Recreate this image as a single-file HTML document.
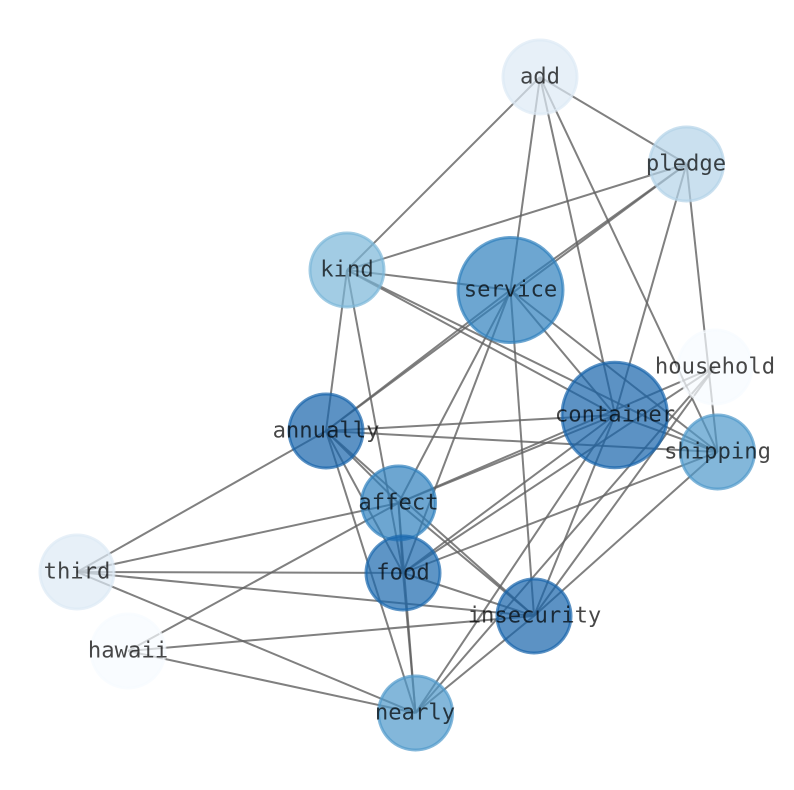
<!DOCTYPE html>
<html><head><meta charset="utf-8"><style>
html,body{margin:0;padding:0;background:#fff}
svg{display:block}
text{font-family:"DejaVu Sans Mono",monospace;font-size:22.2px;text-anchor:middle;fill:#000;fill-opacity:.72}
line{stroke:#606060;stroke-opacity:.8;stroke-width:2}
circle{stroke-width:3;fill-opacity:.7;stroke-opacity:.7}
</style></head><body>
<svg width="794" height="790" viewBox="0 0 794 790" xmlns="http://www.w3.org/2000/svg">
<g>
<line x1="540" y1="77" x2="347" y2="270"/>
<line x1="540" y1="77" x2="510.5" y2="290"/>
<line x1="540" y1="77" x2="615" y2="415"/>
<line x1="540" y1="77" x2="717.5" y2="452"/>
<line x1="540" y1="77" x2="686.5" y2="164"/>
<line x1="686.5" y1="164" x2="347" y2="270"/>
<line x1="686.5" y1="164" x2="510.5" y2="290"/>
<line x1="686.5" y1="164" x2="326" y2="431"/>
<line x1="686.5" y1="164" x2="615" y2="415"/>
<line x1="686.5" y1="164" x2="717.5" y2="452"/>
<line x1="347" y1="270" x2="510.5" y2="290"/>
<line x1="347" y1="270" x2="615" y2="415"/>
<line x1="347" y1="270" x2="717.5" y2="452"/>
<line x1="347" y1="270" x2="326" y2="431"/>
<line x1="347" y1="270" x2="403" y2="573"/>
<line x1="510.5" y1="290" x2="326" y2="431"/>
<line x1="510.5" y1="290" x2="615" y2="415"/>
<line x1="510.5" y1="290" x2="717.5" y2="452"/>
<line x1="510.5" y1="290" x2="398.5" y2="503"/>
<line x1="510.5" y1="290" x2="403" y2="573"/>
<line x1="510.5" y1="290" x2="534" y2="616"/>
<line x1="715" y1="367" x2="398.5" y2="503"/>
<line x1="715" y1="367" x2="403" y2="573"/>
<line x1="715" y1="367" x2="534" y2="616"/>
<line x1="715" y1="367" x2="415.5" y2="713"/>
<line x1="615" y1="415" x2="326" y2="431"/>
<line x1="615" y1="415" x2="717.5" y2="452"/>
<line x1="615" y1="415" x2="398.5" y2="503"/>
<line x1="615" y1="415" x2="403" y2="573"/>
<line x1="615" y1="415" x2="534" y2="616"/>
<line x1="615" y1="415" x2="415.5" y2="713"/>
<line x1="326" y1="431" x2="717.5" y2="452"/>
<line x1="326" y1="431" x2="77" y2="572"/>
<line x1="326" y1="431" x2="398.5" y2="503"/>
<line x1="326" y1="431" x2="403" y2="573"/>
<line x1="326" y1="431" x2="534" y2="616"/>
<line x1="326" y1="431" x2="415.5" y2="713"/>
<line x1="717.5" y1="452" x2="403" y2="573"/>
<line x1="717.5" y1="452" x2="534" y2="616"/>
<line x1="398.5" y1="503" x2="403" y2="573"/>
<line x1="398.5" y1="503" x2="415.5" y2="713"/>
<line x1="398.5" y1="503" x2="534" y2="616"/>
<line x1="398.5" y1="503" x2="77" y2="572"/>
<line x1="398.5" y1="503" x2="128" y2="651"/>
<line x1="77" y1="572" x2="403" y2="573"/>
<line x1="77" y1="572" x2="534" y2="616"/>
<line x1="77" y1="572" x2="415.5" y2="713"/>
<line x1="403" y1="573" x2="534" y2="616"/>
<line x1="403" y1="573" x2="415.5" y2="713"/>
<line x1="534" y1="616" x2="128" y2="651"/>
<line x1="534" y1="616" x2="415.5" y2="713"/>
<line x1="128" y1="651" x2="415.5" y2="713"/>
</g>
<g>
<circle cx="540" cy="77" r="37" fill="#dde9f5" stroke="#dde9f5"/>
<circle cx="686.5" cy="164" r="37" fill="#b3d3e8" stroke="#b3d3e8"/>
<circle cx="347" cy="270" r="37" fill="#7ab6d9" stroke="#7ab6d9"/>
<circle cx="510.5" cy="290" r="52.5" fill="#2f80be" stroke="#2f80be"/>
<circle cx="715" cy="367" r="37" fill="#f7fbff" stroke="#f7fbff"/>
<circle cx="614.7" cy="415" r="52.7" fill="#1764ab" stroke="#1764ab"/>
<circle cx="326" cy="431" r="37" fill="#1764ab" stroke="#1764ab"/>
<circle cx="717.5" cy="452" r="37" fill="#4e98cb" stroke="#4e98cb"/>
<circle cx="398.5" cy="503" r="37" fill="#2f80be" stroke="#2f80be"/>
<circle cx="77" cy="572" r="37" fill="#dde9f5" stroke="#dde9f5"/>
<circle cx="403" cy="573" r="37" fill="#1a68ae" stroke="#1a68ae"/>
<circle cx="534" cy="616" r="37" fill="#1764ab" stroke="#1764ab"/>
<circle cx="128" cy="651" r="37" fill="#f7fbff" stroke="#f7fbff"/>
<circle cx="415.5" cy="713" r="37" fill="#4e98cb" stroke="#4e98cb"/>
</g>
<g>
<text x="540" y="83.5">add</text>
<text x="686" y="170.5">pledge</text>
<text x="347" y="276.5">kind</text>
<text x="510.5" y="296.5">service</text>
<text x="715" y="373.5">household</text>
<text x="615" y="421.5">container</text>
<text x="326" y="437.5">annually</text>
<text x="717.5" y="458.5">shipping</text>
<text x="398.5" y="509.5">affect</text>
<text x="77" y="578.5">third</text>
<text x="403" y="579.5">food</text>
<text x="534.5" y="622.5">insecurity</text>
<text x="128" y="657.5">hawaii</text>
<text x="415" y="719.5">nearly</text>
</g>
</svg>
</body></html>
